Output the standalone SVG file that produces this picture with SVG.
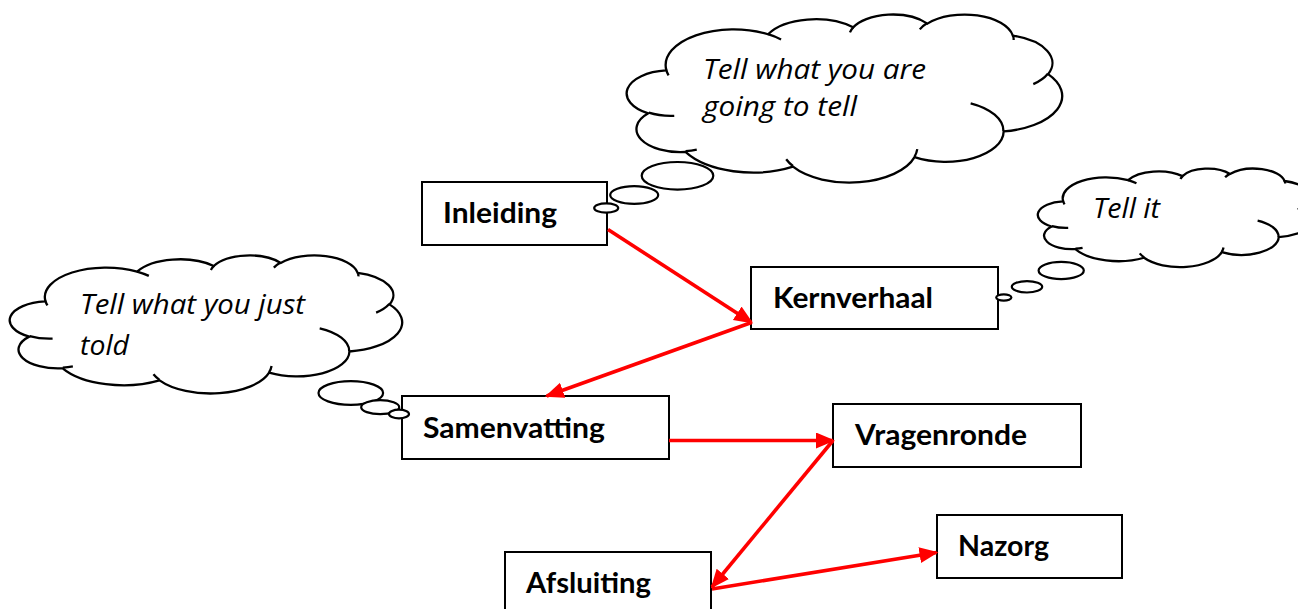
<svg xmlns="http://www.w3.org/2000/svg" xmlns:xlink="http://www.w3.org/1999/xlink" width="1298" height="609" viewBox="0 0 1298 609">
  <style>
    .box { fill: #ffffff; stroke: #000000; stroke-width: 2; }
    .bubble { fill: #ffffff; stroke: #000000; stroke-width: 2.2; }
    .cloud-fill { fill: #ffffff; stroke: #000000; stroke-width: 2.3; vector-effect: non-scaling-stroke; }
    .cloud-line { fill: none; stroke: #000000; stroke-width: 2.3; vector-effect: non-scaling-stroke; }
    .label { font-family: Lato, "Open Sans", "Liberation Sans", sans-serif; font-weight: bold; font-size: 28px; fill: #000000; }
    .thought { font-family: "Open Sans", Lato, "Liberation Sans", sans-serif; font-style: italic; font-size: 28px; fill: #000000; }
    .flow { fill: none; stroke: #ff0000; stroke-width: 3.6; marker-end: url(#arrow); }
  </style>
  <defs>
    <marker id="arrow" markerUnits="userSpaceOnUse" markerWidth="22" markerHeight="18" refX="17" refY="8" orient="auto">
      <path d="M0,0 L19,8 L0,16 Z" fill="#ff0000"/>
    </marker>
    <!-- cloud outline on a 43200 x 43200 grid -->
    <g id="cloud">
      <path class="cloud-fill" d="M3900 14370 A6753 9190 0 0 1 14005 5202 A5333 7267 0 0 1 22457 3430 A4365 5945 0 0 1 29833 2478 A4857 6595 0 0 1 38318 5572 A5333 7273 0 0 1 41818 15457 A6775 9220 0 0 1 37406 30203 A5785 7867 0 0 1 28557 36813 A6752 9215 0 0 1 16483 39266 A7720 10543 0 0 1 5807 35473 A4360 5918 0 0 1 2116 25551 A4345 5945 0 0 1 3866 14507 Z"/>
      <path class="cloud-line" d="M4693 26177 A4345 5945 0 0 1 2160 25380 M6928 34899 A4360 5918 0 0 1 5819 35281 M16478 39090 A6752 9215 0 0 1 15809 37347 M28827 34751 A6752 9215 0 0 1 28560 36660 M34129 22954 A5785 7867 0 0 1 37381 30090 M41798 15354 A5333 7273 0 0 1 40350 18029 M38324 5426 A4857 6595 0 0 1 38400 6690 M29078 3952 A4857 6595 0 0 1 29820 2340 M22141 4720 A4365 5945 0 0 1 22500 3331 M14000 5192 A6753 9190 0 0 1 15300 6540 M4127 15789 A6753 9190 0 0 1 3900 14370"/>
    </g>
  </defs>

  <rect width="1298" height="609" fill="#ffffff"/>

  <!-- thought clouds -->
  <g id="cloud-intro">
    <use xlink:href="#cloud" href="#cloud" transform="translate(627 14) scale(0.0100694 0.0038889)"/>
    <text class="thought" x="703" y="79" textLength="223" lengthAdjust="spacingAndGlyphs">Tell what you are</text>
    <text class="thought" x="703" y="116" textLength="154" lengthAdjust="spacingAndGlyphs">going to tell</text>
  </g>
  <g id="cloud-core">
    <use xlink:href="#cloud" href="#cloud" transform="translate(1038 168.3) scale(0.0064352 0.0022778)"/>
    <text class="thought" x="1093" y="218" textLength="67" lengthAdjust="spacingAndGlyphs">Tell it</text>
  </g>
  <g id="cloud-summary">
    <use xlink:href="#cloud" href="#cloud" transform="translate(10 255) scale(0.0090741 0.0031944)"/>
    <text class="thought" x="80" y="314" textLength="225" lengthAdjust="spacingAndGlyphs">Tell what you just</text>
    <text class="thought" x="80" y="355" textLength="49" lengthAdjust="spacingAndGlyphs">told</text>
  </g>

  <!-- nodes -->
  <g id="inleiding">
    <rect class="box" x="422" y="182" width="185" height="63"/>
    <text class="label" x="443" y="223" textLength="114" lengthAdjust="spacingAndGlyphs">Inleiding</text>
  </g>
  <g id="kernverhaal">
    <rect class="box" x="751" y="267" width="247" height="62"/>
    <text class="label" x="773" y="308" textLength="160" lengthAdjust="spacingAndGlyphs">Kernverhaal</text>
  </g>
  <g id="samenvatting">
    <rect class="box" x="402" y="396" width="267" height="63"/>
    <text class="label" x="423" y="438" textLength="182" lengthAdjust="spacingAndGlyphs">Samenvatting</text>
  </g>
  <g id="vragenronde">
    <rect class="box" x="833" y="404" width="248" height="63"/>
    <text class="label" x="855" y="445" textLength="172" lengthAdjust="spacingAndGlyphs">Vragenronde</text>
  </g>
  <g id="nazorg">
    <rect class="box" x="937" y="515" width="185" height="63"/>
    <text class="label" x="958" y="556" textLength="91" lengthAdjust="spacingAndGlyphs">Nazorg</text>
  </g>
  <g id="afsluiting">
    <rect class="box" x="505" y="552" width="206" height="70"/>
    <text class="label" x="526" y="593" textLength="125" lengthAdjust="spacingAndGlyphs">Afsluiting</text>
  </g>

  <!-- callout tails -->
  <g id="tail-intro">
    <ellipse class="bubble" cx="677.5" cy="175.8" rx="35.8" ry="13.8"/>
    <ellipse class="bubble" cx="634.2" cy="195" rx="24" ry="8.8"/>
    <ellipse class="bubble" cx="606.2" cy="208" rx="12" ry="4.6"/>
  </g>
  <g id="tail-core">
    <ellipse class="bubble" cx="1061.2" cy="270.5" rx="22.6" ry="8.6"/>
    <ellipse class="bubble" cx="1027" cy="286.8" rx="15.2" ry="5.7"/>
    <ellipse class="bubble" cx="1003.8" cy="297.5" rx="7.6" ry="3.1"/>
  </g>
  <g id="tail-summary">
    <ellipse class="bubble" cx="350.8" cy="393" rx="32.3" ry="11.8"/>
    <ellipse class="bubble" cx="380.2" cy="407.2" rx="19" ry="7"/>
    <ellipse class="bubble" cx="399" cy="414" rx="10" ry="4.4"/>
  </g>

  <!-- connectors -->
  <g id="connectors">
    <line class="flow" x1="608" y1="229.5" x2="751.5" y2="322.5"/>
    <line class="flow" x1="751.5" y1="322.5" x2="546.7" y2="396"/>
    <line class="flow" x1="669" y1="440.5" x2="833" y2="440.5"/>
    <line class="flow" x1="833" y1="440.5" x2="712" y2="587"/>
    <line class="flow" x1="712" y1="589" x2="936.5" y2="552.5"/>
  </g>
</svg>
